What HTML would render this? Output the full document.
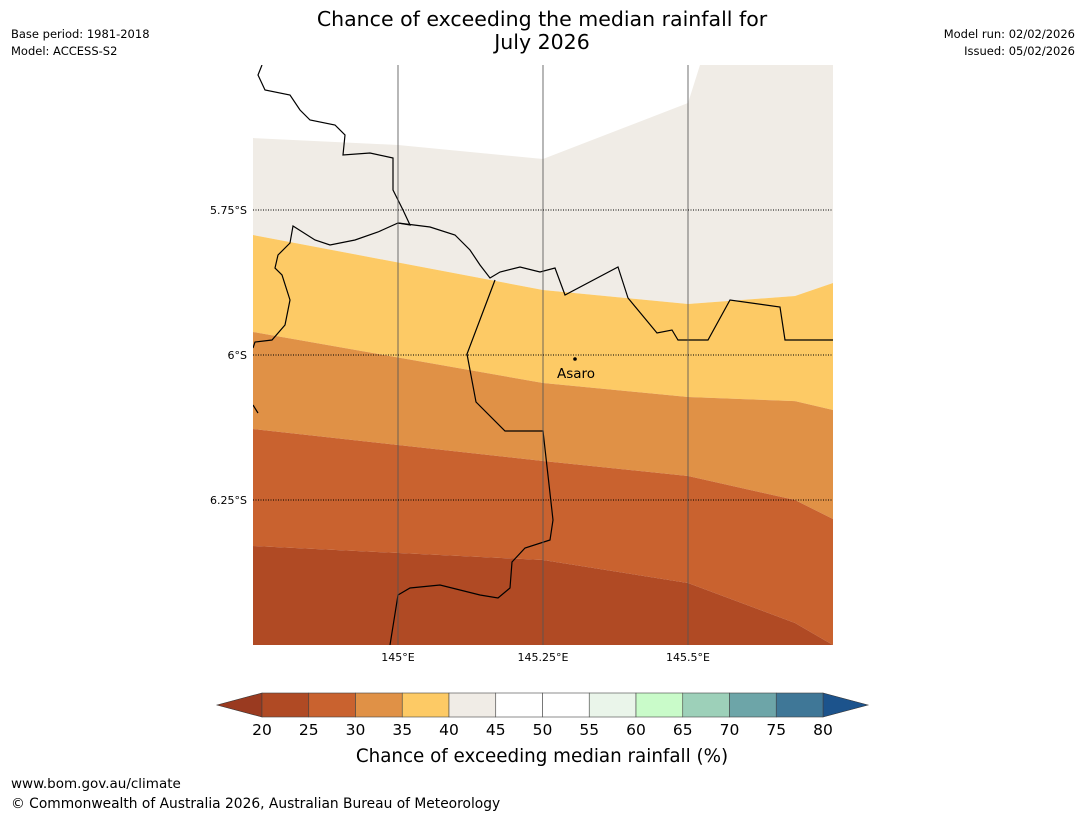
<!DOCTYPE html>
<html><head><meta charset="utf-8">
<style>
body{margin:0;background:#fff;width:1085px;height:816px;overflow:hidden;font-family:"Liberation Sans","DejaVu Sans",sans-serif;}
svg{position:absolute;left:0;top:0}
</style></head><body>
<svg id="chart" width="1085" height="816" font-family="DejaVu Sans, Liberation Sans, sans-serif">
<text x="542" y="26" text-anchor="middle" font-size="20.5">Chance of exceeding the median rainfall for</text>
<text x="542" y="49" text-anchor="middle" font-size="20.5">July 2026</text>
<text x="11" y="38" font-size="11.5">Base period: 1981-2018</text>
<text x="11" y="55" font-size="11.5">Model: ACCESS-S2</text>
<text x="1075" y="38" font-size="11.5" text-anchor="end">Model run: 02/02/2026</text>
<text x="1075" y="55" font-size="11.5" text-anchor="end">Issued: 05/02/2026</text>
<defs><clipPath id="mapclip"><rect x="253" y="65" width="580" height="580"/></clipPath></defs>
<g id="map" clip-path="url(#mapclip)"></g>
<g id="overlay"></g>
<g id="cbar"></g>
<text x="542" y="762" text-anchor="middle" font-size="18.3">Chance of exceeding median rainfall (%)</text>
<text x="11" y="788" font-size="13.5">www.bom.gov.au/climate</text>
<text x="11" y="808" font-size="13.8">© Commonwealth of Australia 2026, Australian Bureau of Meteorology</text>
</svg>
<script>
// axis: lon 144.75..145.75 -> x 253..833 ; lat -5.5..-6.5 -> y 65..645
const lonTicks=[145,145.25,145.5];
const lonLabels=["145°E","145.25°E","145.5°E"];
const latTicks=[-5.75,-6,-6.25];
const latLabels=["5.75°S","6°S","6.25°S"];
// contour boundaries: lon nodes and lat of each boundary
const contourLons=[144.75,145.25,145.5,145.6845,145.75];
const bound40=[-5.7931,-5.8879,-5.9121,-5.8983,-5.8759];
const bound35=[-5.9603,-6.0483,-6.0724,-6.0796,-6.0948];
const bound30=[-6.1276,-6.1828,-6.2086,-6.25,-6.2828];
const bound25=[-6.3293,-6.3534,-6.3931,-6.4621,-6.5];
const topBoundLons=[144.75,145,145.25,145.5,145.5207];
const topBound=[-5.6259,-5.6379,-5.6621,-5.5655,-5.5];
const bandColors=["#f0ece6","#fdca65","#e09146","#c9622f","#b04a24"];
const cbLevels=[20,25,30,35,40,45,50,55,60,65,70,75,80];
const cbColors=["#b04a24","#c9622f","#e09146","#fdca65","#f0ece6","#ffffff","#ffffff","#eaf5ea","#c9fbc9","#9dd0b9","#6da5a8","#3f7797"];
const coast1=[[262,65],[258,75],[265,90],[290,95],[300,110],[310,120],[335,125],[345,135],[343,155],[370,153],[393,158],[393,190],[403,210],[410,225],[398,223],[378,232],[355,240],[330,245],[315,240],[293,226],[290,243],[278,255],[275,268],[282,275],[290,300],[285,325],[272,340],[255,342],[253,348]];
const coast2=[[398,223],[430,227],[455,235],[470,250],[480,265],[490,278],[500,272],[520,267],[540,272],[555,268],[565,295],[618,267],[628,298],[657,333],[672,330],[678,340],[708,340],[730,300],[780,307],[785,340],[833,340]];
const prov=[[495,280],[467,354],[476,402],[505,431],[543,431],[553,520],[550,540],[525,548],[512,562],[510,588],[498,598],[480,595],[460,590],[440,585],[410,588],[398,595],[390,645]];
const ns="http://www.w3.org/2000/svg";
const X=lon=>253+(lon-144.75)*580;
const Y=lat=>65+(-5.5-lat)*580;
function mk(t,a,p){const e=document.createElementNS(ns,t);for(const k in a)e.setAttribute(k,a[k]);p.appendChild(e);return e;}
const map=document.getElementById('map'),ov=document.getElementById('overlay'),cb=document.getElementById('cbar');
mk('rect',{x:253,y:65,width:580,height:580,fill:'#fff'},map);
function line(lons,lats){return lons.map((l,i)=>X(l)+','+Y(lats[i]));}
let p=mk('polygon',{points:[...line(topBoundLons,topBound),'833,65','833,'+Y(bound40[4]),...line(contourLons,bound40).reverse()].join(' '),fill:bandColors[0]},map);


const bounds=[bound40,bound35,bound30,bound25];
const names=['band-35-40','band-30-35','band-25-30','band-20-25'];
for(let i=0;i<4;i++){
 const top=line(contourLons,bounds[i]);
 const bot=i<3?line(contourLons,bounds[i+1]).reverse():['833,700','253,700'];
 const e=mk('polygon',{points:[...top,...bot].join(' '),fill:bandColors[i+1]},map);
 
 
}
const pl=pts=>pts.map(q=>q.join(',')).join(' ');
mk('polyline',{points:pl(coast1),fill:'none',stroke:'#000','stroke-width':1.2},map);
mk('polyline',{points:pl(coast2),fill:'none',stroke:'#000','stroke-width':1.2},map);
mk('polyline',{points:pl(prov),fill:'none',stroke:'#000','stroke-width':1.2},map);
mk('polyline',{points:'253,405 258,413',fill:'none',stroke:'#000','stroke-width':1.2},map);
lonTicks.forEach((l,i)=>{
 const g=mk('line',{x1:X(l),x2:X(l),y1:65,y2:645,stroke:'#555','stroke-opacity':0.7,'stroke-width':1.2},ov);
 
 
 const t=mk('text',{x:X(l),y:661,'text-anchor':'middle','font-size':11},ov);t.textContent=lonLabels[i];
 
 
});
latTicks.forEach((l,i)=>{
 const g=mk('line',{x1:253,x2:833,y1:Y(l),y2:Y(l),stroke:'#000','stroke-width':1,'stroke-dasharray':'1,1.5'},ov);
 
 
 const t=mk('text',{x:247,y:Y(l)+4,'text-anchor':'end','font-size':11},ov);t.textContent=latLabels[i];
 
 
});
const dot=mk('circle',{cx:575,cy:359,r:1.8,fill:'#000'},ov);


const at=mk('text',{x:576,y:378,'text-anchor':'middle','font-size':13.5},ov);at.textContent='Asaro';


const cx0=262,cx1=823,cy=693,ch=24;
const CX=v=>cx0+(v-20)/60*(cx1-cx0);
const lt=mk('polygon',{points:`217,705 ${cx0},${cy} ${cx0},${cy+ch}`,fill:'#9a3a20',stroke:'#333','stroke-width':0.6},cb);


const rt=mk('polygon',{points:`868,705 ${cx1},${cy} ${cx1},${cy+ch}`,fill:'#1c538c',stroke:'#333','stroke-width':0.6},cb);


cbColors.forEach((c,i)=>{
 const r=mk('rect',{x:CX(cbLevels[i]),y:cy,width:CX(cbLevels[i+1])-CX(cbLevels[i]),height:ch,fill:c,stroke:'#444','stroke-width':0.6},cb);
 
 
});
cbLevels.forEach(v=>{
 const t=mk('text',{x:CX(v),y:735,'text-anchor':'middle','font-size':15.5},cb);t.textContent=v;
 
 
});
</script>
</body></html>
